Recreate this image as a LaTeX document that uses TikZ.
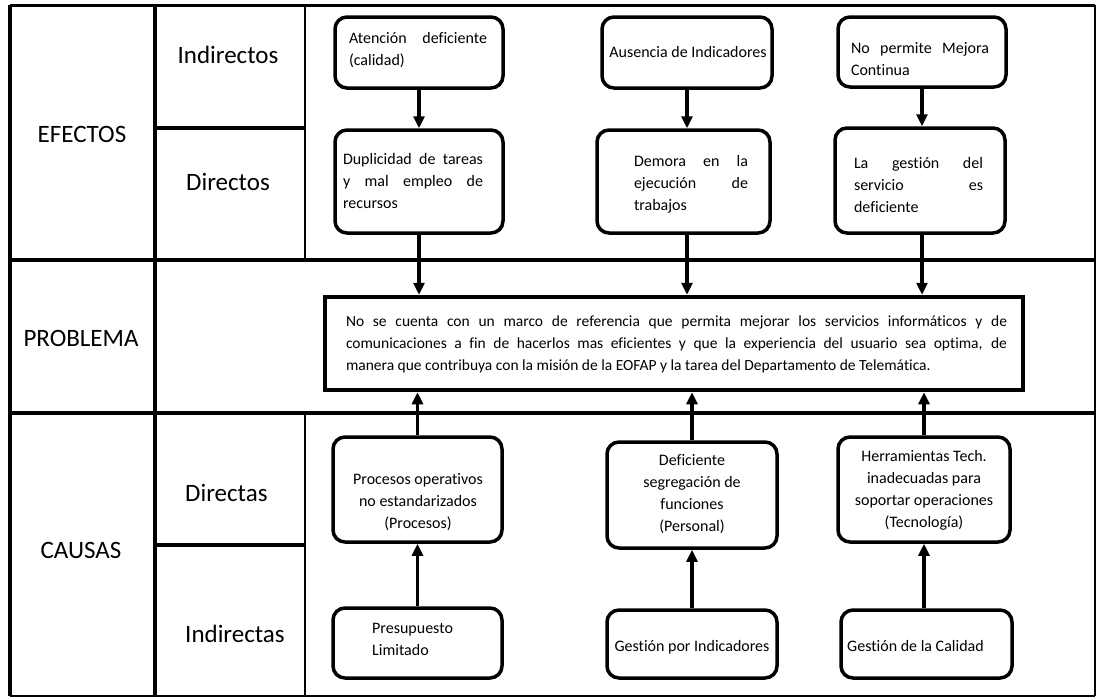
\documentclass[tikz,border=0pt]{standalone}
\usepackage{fontspec}
\setmainfont{Carlito}[Ligatures=NoCommon]
\usetikzlibrary{arrows.meta}
\begin{document}
\begin{tikzpicture}[x=1pt,y=-1pt,
  rowlabel/.style={inner sep=0pt,font=\fontsize{25}{29}\selectfont},
  rbox/.style={draw,line width=3.5pt,rounded corners=12pt,inner sep=0pt},
  pbox/.style={draw,line width=4.5pt,inner sep=0pt},
  btext/.style={inner sep=0pt,font=\fontsize{16}{22}\selectfont},
  ptext/.style={inner sep=0pt,font=\fontsize{15.5}{22}\selectfont,align=justify},
  jtext/.style={btext,align=justify},
  ctext/.style={btext,align=center},
  ltext/.style={btext,align=left,anchor=west},
  arr/.style={line width=3.2pt,-{Triangle[length=12pt,width=11pt]}}
]
\useasboundingbox (0,0) rectangle (1099,699);

% table grid
\draw[line width=4pt] (10,5) -- (10,696);
\draw[line width=3pt] (10,5) -- (1095,5);
\draw[line width=1.5pt] (1095,5) -- (1095,696);
\draw[line width=2pt] (10,696) -- (1095,696);
\draw[line width=4.5pt] (155,5) -- (155,696);
\draw[line width=2pt] (305,5) -- (305,260);
\draw[line width=2pt] (305,413) -- (305,696);
\draw[line width=4.5pt] (10,260) -- (1095,260);
\draw[line width=4.5pt] (10,413) -- (1095,413);
\draw[line width=3.5pt] (155,128) -- (305,128);
\draw[line width=3.5pt] (155,545) -- (305,545);

% row and sub-row labels
\node[rowlabel] (efectos) at (82,134) {EFECTOS};
\node[rowlabel] (efind) at (228,55) {Indirectos};
\node[rowlabel] (efdir) at (228,182) {Directos};
\node[rowlabel] (problema) at (81,338) {PROBLEMA};
\node[rowlabel] (causas) at (81,550) {CAUSAS};
\node[rowlabel,anchor=west] (cadir) at (185,493) {Directas};
\node[rowlabel,anchor=west] (caind) at (185,634) {Indirectas};

% effect boxes
\node[rbox,minimum width=168pt,minimum height=71pt] (a1) at (419,52.5) {};
\node[rbox,minimum width=170pt,minimum height=71pt] (a2) at (687,52.5) {};
\node[rbox,minimum width=168pt,minimum height=70pt] (a3) at (922,52) {};
\node[rbox,minimum width=168pt,minimum height=103pt] (b1) at (419,181.5) {};
\node[rbox,minimum width=173pt,minimum height=103pt] (b2) at (683.5,181.5) {};
\node[rbox,minimum width=170pt,minimum height=105pt] (b3) at (920,180.5) {};

\node[jtext,text width=138pt] (a1t) at (418,50) {Atención deficiente\linebreak (calidad)};
\node[ctext] (a2t) at (688,52) {Ausencia de Indicadores};
\node[jtext,text width=138pt] (a3t) at (920,59) {No permite Mejora\linebreak Continua};
\node[jtext,text width=140pt] (b1t) at (413,181) {Duplicidad de tareas\linebreak y mal empleo de\linebreak recursos};
\node[jtext,text width=114pt] (b2t) at (691,184) {Demora en la\linebreak ejecución de\linebreak trabajos};
\node[jtext,text width=129pt] (b3t) at (918.5,185) {La gestión del\linebreak servicio es\linebreak deficiente};

% central problem
\node[pbox,minimum width=698pt,minimum height=93pt] (p) at (674,343.5) {};
\node[ptext,text width=661pt] (pt) at (676.5,344) {No se cuenta con un marco de referencia que permita mejorar los servicios informáticos y de\linebreak comunicaciones a fin de hacerlos mas eficientes y que la experiencia del usuario sea optima, de\linebreak manera que contribuya con la misión de la EOFAP y la tarea del Departamento de Telemática.};

% cause boxes
\node[rbox,minimum width=169pt,minimum height=105pt] (c1) at (417.5,489.5) {};
\node[rbox,minimum width=170pt,minimum height=106pt] (c2) at (692,495) {};
\node[rbox,minimum width=172pt,minimum height=105pt] (c3) at (924,489.5) {};
\node[rbox,minimum width=169pt,minimum height=70pt] (d1) at (417.5,643) {};
\node[rbox,minimum width=170pt,minimum height=68pt] (d2) at (692,644) {};
\node[rbox,minimum width=171pt,minimum height=68pt] (d3) at (926.5,644) {};

\node[ctext] (c1t) at (418,502) {Procesos operativos\\no estandarizados\\(Procesos)};
\node[ctext] (c2t) at (692,494) {Deficiente\\segregación de\\funciones\\(Personal)};
\node[ctext] (c3t) at (924,490) {Herramientas Tech.\\inadecuadas para\\soportar operaciones\\(Tecnología)};
\node[ltext] (d1t) at (372,639) {Presupuesto\\Limitado};
\node[ctext] (d2t) at (692,647) {Gestión por Indicadores};
\node[ltext] (d3t) at (847,646) {Gestión de la Calidad};

% effects chain
\draw[arr] (a1.south) -- (a1.south |- b1.north);
\draw[arr] (a2.south) -- (a2.south |- b2.north);
\draw[arr] (a3.south) -- (a3.south |- b3.north);
\draw[arr] (b1.south -| a1.south) -- (a1.south |- p.north);
\draw[arr] (b2.south -| a2.south) -- (a2.south |- p.north);
\draw[arr] (b3.south -| a3.south) -- (a3.south |- p.north);

% causes chain
\draw[arr] (c1.north) -- (c1.north |- p.south);
\draw[arr] (c2.north) -- (c2.north |- p.south);
\draw[arr] (c3.north) -- (c3.north |- p.south);
\draw[arr] (d1.north) -- (d1.north |- c1.south);
\draw[arr] (d2.north) -- (d2.north |- c2.south);
\draw[arr] (d3.north -| c3.north) -- (c3.south);
\end{tikzpicture}
\end{document}
